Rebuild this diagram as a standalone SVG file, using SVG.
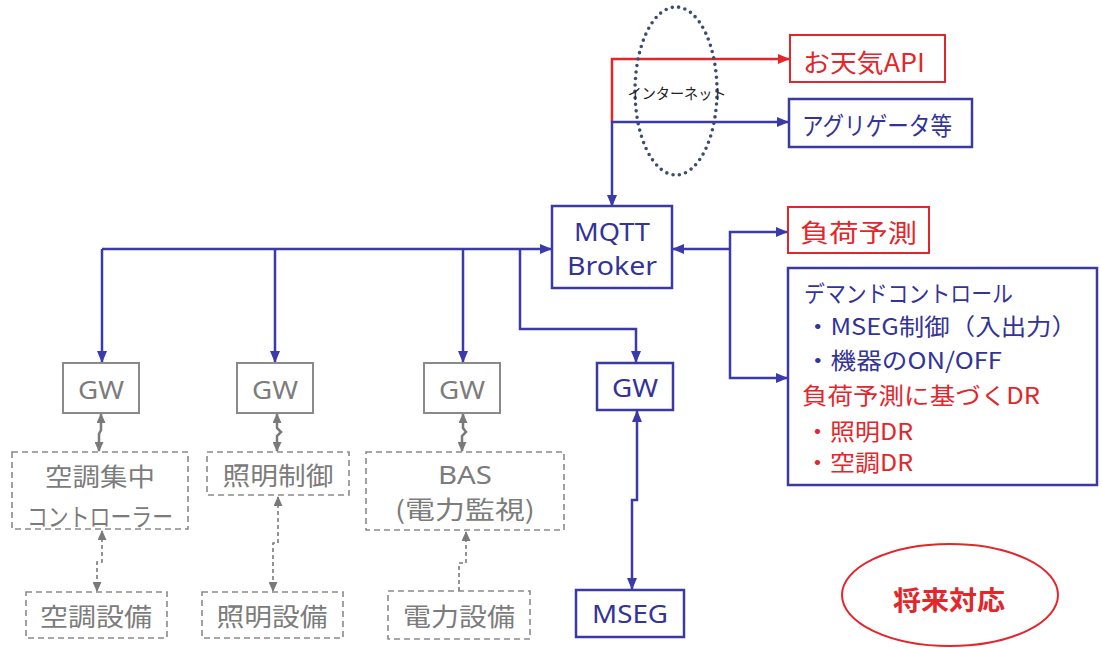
<svg xmlns="http://www.w3.org/2000/svg" width="1102" height="648" viewBox="0 0 1102 648">
<defs>
<style>
text{font-family:"Noto Sans CJK JP","Noto Sans",sans-serif;dominant-baseline:central;}
.lat{font-family:"Noto Sans","Noto Sans CJK JP",sans-serif;}
.blue{fill:#33339a;}
.red{fill:#e3262b;}
.gray{fill:#7c7c7c;}
.bbox{fill:#fff;stroke:#3a3aa2;stroke-width:2.5;}
.rbox{fill:#fff;stroke:#e3262b;stroke-width:2;}
.gbox{fill:#fff;stroke:#8a8a8a;stroke-width:2;}
.dbox{fill:#fff;stroke:#8a8a8a;stroke-width:1.6;stroke-dasharray:6 4;}
.bl{fill:none;stroke:#3a3aa8;stroke-width:2.5;}
.rl{fill:none;stroke:#e3262b;stroke-width:2.5;}
.gl{fill:none;stroke:#7a7a7a;stroke-width:2.5;}
.gdl{fill:none;stroke:#7a7a7a;stroke-width:1.6;stroke-dasharray:4 3;}
</style>
<marker id="ab" markerWidth="12" markerHeight="10" refX="11" refY="5" orient="auto-start-reverse" markerUnits="userSpaceOnUse"><path d="M0,0 L12,5 L0,10 Z" fill="#3a3aa8"/></marker>
<marker id="ar" markerWidth="12" markerHeight="10" refX="11" refY="5" orient="auto-start-reverse" markerUnits="userSpaceOnUse"><path d="M0,0 L12,5 L0,10 Z" fill="#e3262b"/></marker>
<marker id="ag" markerWidth="10" markerHeight="9" refX="9" refY="4.5" orient="auto-start-reverse" markerUnits="userSpaceOnUse"><path d="M0,0 L10,4.5 L0,9 Z" fill="#7a7a7a"/></marker>
</defs>
<rect width="1102" height="648" fill="#fff"/>

<g id="connectors">
<path class="rl" d="M612,122 V59 H789" marker-end="url(#ar)"/>
<path class="bl" d="M612,206 V122 H788" marker-start="url(#ab)" marker-end="url(#ab)"/>
<path class="bl" d="M102,249 H551" marker-end="url(#ab)"/>
<path class="bl" d="M102,249 V362" marker-end="url(#ab)"/>
<path class="bl" d="M275,249 V362" marker-end="url(#ab)"/>
<path class="bl" d="M463,249 V362" marker-end="url(#ab)"/>
<path class="bl" d="M520,249 V329 H636 V362" marker-end="url(#ab)"/>
<path class="bl" d="M730,249 H673" marker-end="url(#ab)"/>
<path class="bl" d="M730,249 V232 H787" marker-end="url(#ab)"/>
<path class="bl" d="M730,249 V378 H787" marker-end="url(#ab)"/>
<path class="bl" d="M637,411 V500 H632 V589" marker-start="url(#ab)" marker-end="url(#ab)"/>
<path class="gl" d="M101,414 V430 L99,434 V451" marker-start="url(#ag)" marker-end="url(#ag)"/>
<path class="gl" d="M277,414 V428 L281,432 L277,436 V451" marker-start="url(#ag)" marker-end="url(#ag)"/>
<path class="gl" d="M463,414 V428 L466,432 L462,436 V451" marker-start="url(#ag)" marker-end="url(#ag)"/>
<path class="gdl" d="M102,531 V562 H97 V591" marker-start="url(#ag)" marker-end="url(#ag)"/>
<path class="gdl" d="M278,497 V543 H273 V591" marker-start="url(#ag)" marker-end="url(#ag)"/>
<path class="gdl" d="M459,591 V563 H466 V532" marker-end="url(#ag)"/>
</g>

<g id="internet">
<ellipse cx="676" cy="91" rx="41" ry="84" fill="none" stroke="#3d4d72" stroke-width="3.6" stroke-linecap="round" stroke-dasharray="0 6.5"/>
<text x="677" y="92" font-size="15" text-anchor="middle" fill="#222" textLength="99" lengthAdjust="spacingAndGlyphs">インターネット</text>
</g>

<g id="weather">
<rect class="rbox" x="790" y="35" width="155" height="47"/>
<text class="red" x="803" y="61" font-size="25" textLength="122" lengthAdjust="spacingAndGlyphs">お天気API</text>
</g>

<g id="aggregator">
<rect class="bbox" x="789" y="99" width="183" height="48"/>
<text class="blue" x="802" y="124" font-size="25" textLength="150" lengthAdjust="spacingAndGlyphs">アグリゲータ等</text>
</g>

<g id="mqtt">
<rect class="bbox" x="552" y="206" width="120" height="82"/>
<text class="blue lat" x="612" y="231" font-size="25" text-anchor="middle" textLength="76" lengthAdjust="spacingAndGlyphs">MQTT</text>
<text class="blue lat" x="612" y="265" font-size="25" text-anchor="middle" textLength="90" lengthAdjust="spacingAndGlyphs">Broker</text>
</g>

<g id="load-forecast">
<rect class="rbox" x="788" y="207" width="141" height="46"/>
<text class="red" x="800" y="231" font-size="25" textLength="117" lengthAdjust="spacingAndGlyphs">負荷予測</text>
</g>

<g id="demand">
<rect class="bbox" x="788" y="268" width="309" height="217"/>
<text class="blue" x="804" y="292" font-size="23" textLength="209" lengthAdjust="spacingAndGlyphs">デマンドコントロール</text>
<text class="blue" x="805" y="325" font-size="23" textLength="272" lengthAdjust="spacingAndGlyphs">・MSEG制御（入出力）</text>
<text class="blue" x="805" y="359" font-size="23" textLength="197" lengthAdjust="spacingAndGlyphs">・機器のON/OFF</text>
<text class="red" x="802" y="394" font-size="23" textLength="238" lengthAdjust="spacingAndGlyphs">負荷予測に基づくDR</text>
<text class="red" x="805" y="430" font-size="23" textLength="108" lengthAdjust="spacingAndGlyphs">・照明DR</text>
<text class="red" x="805" y="461" font-size="23" textLength="108" lengthAdjust="spacingAndGlyphs">・空調DR</text>
</g>

<g id="gw1">
<rect class="gbox" x="63" y="363" width="76" height="50"/>
<text class="gray lat" x="101" y="389" font-size="26" text-anchor="middle" textLength="46" lengthAdjust="spacingAndGlyphs">GW</text>
</g>
<g id="gw2">
<rect class="gbox" x="237" y="363" width="76" height="50"/>
<text class="gray lat" x="275" y="389" font-size="26" text-anchor="middle" textLength="46" lengthAdjust="spacingAndGlyphs">GW</text>
</g>
<g id="gw3">
<rect class="gbox" x="424" y="363" width="76" height="50"/>
<text class="gray lat" x="462" y="389" font-size="26" text-anchor="middle" textLength="46" lengthAdjust="spacingAndGlyphs">GW</text>
</g>
<g id="gw4">
<rect class="bbox" x="597" y="363" width="76" height="47"/>
<text class="blue lat" x="635" y="387" font-size="26" text-anchor="middle" textLength="46" lengthAdjust="spacingAndGlyphs">GW</text>
</g>

<g id="ac-controller">
<rect class="dbox" x="12" y="452" width="176" height="77"/>
<text class="gray" x="100" y="475" font-size="25" text-anchor="middle" textLength="110" lengthAdjust="spacingAndGlyphs">空調集中</text>
<text class="gray" x="100" y="515" font-size="25" text-anchor="middle" textLength="146" lengthAdjust="spacingAndGlyphs">コントローラー</text>
</g>
<g id="light-control">
<rect class="dbox" x="207" y="452" width="142" height="43"/>
<text class="gray" x="278" y="474" font-size="25" text-anchor="middle" textLength="111" lengthAdjust="spacingAndGlyphs">照明制御</text>
</g>
<g id="bas">
<rect class="dbox" x="366" y="452" width="198" height="78"/>
<text class="gray lat" x="465" y="474" font-size="25" text-anchor="middle" textLength="54" lengthAdjust="spacingAndGlyphs">BAS</text>
<text class="gray" x="465" y="508" font-size="25" text-anchor="middle" textLength="140" lengthAdjust="spacingAndGlyphs">(電力監視)</text>
</g>

<g id="ac-equip">
<rect class="dbox" x="26" y="592" width="141" height="46"/>
<text class="gray" x="96" y="615" font-size="25" text-anchor="middle" textLength="112" lengthAdjust="spacingAndGlyphs">空調設備</text>
</g>
<g id="light-equip">
<rect class="dbox" x="202" y="592" width="141" height="46"/>
<text class="gray" x="272" y="615" font-size="25" text-anchor="middle" textLength="111" lengthAdjust="spacingAndGlyphs">照明設備</text>
</g>
<g id="power-equip">
<rect class="dbox" x="388" y="591" width="142" height="48"/>
<text class="gray" x="459" y="615" font-size="25" text-anchor="middle" textLength="112" lengthAdjust="spacingAndGlyphs">電力設備</text>
</g>

<g id="mseg">
<rect class="bbox" x="576" y="590" width="108" height="47" stroke-width="3"/>
<text class="blue lat" x="630" y="613" font-size="26" text-anchor="middle" textLength="76" lengthAdjust="spacingAndGlyphs">MSEG</text>
</g>

<g id="future">
<ellipse cx="950" cy="595" rx="108" ry="51" fill="none" stroke="#e3262b" stroke-width="2"/>
<text class="red" x="949" y="598" font-size="26" font-weight="bold" text-anchor="middle" textLength="112" lengthAdjust="spacingAndGlyphs">将来対応</text>
</g>
</svg>
